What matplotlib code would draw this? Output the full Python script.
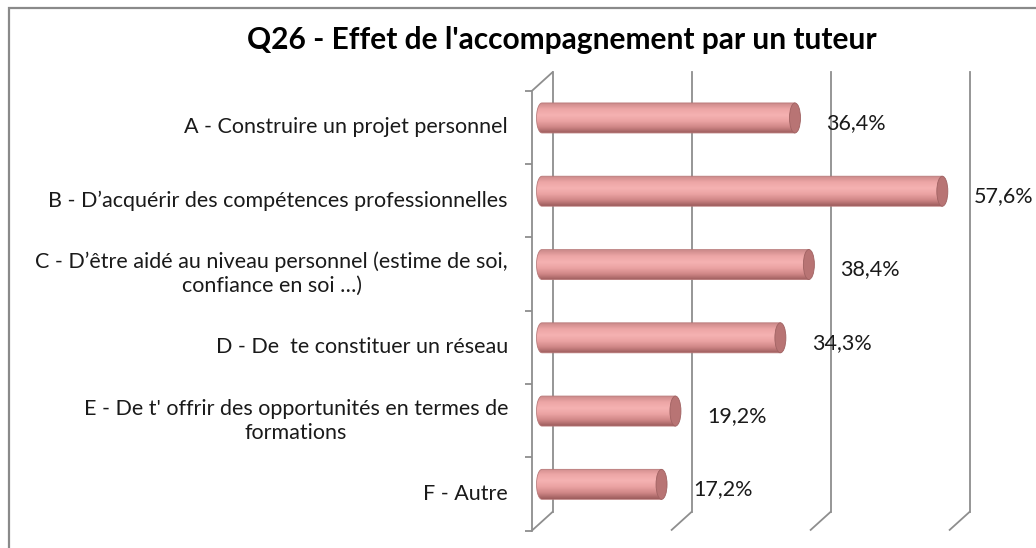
import numpy as np
import matplotlib
matplotlib.use("Agg")
import matplotlib.pyplot as plt
from matplotlib import transforms
from matplotlib.patches import PathPatch, Ellipse, Rectangle
from matplotlib.path import Path
from matplotlib.lines import Line2D
from matplotlib.colors import LinearSegmentedColormap

# ---------------- data ----------------
title = "Q26 - Effet de l'accompagnement par un tuteur"
categories = [
    "A - Construire un projet personnel",
    "B - D\u2019acqu\u00e9rir des comp\u00e9tences professionnelles",
    "C - D\u2019\u00eatre aid\u00e9 au niveau personnel (estime de soi,\nconfiance en soi \u2026)",
    "D - De  te constituer un r\u00e9seau",
    "E - De t' offrir des opportunit\u00e9s en termes de\nformations",
    "F - Autre",
]
values = [36.4, 57.6, 38.4, 34.3, 19.2, 17.2]
value_labels = ["36,4%", "57,6%", "38,4%", "34,3%", "19,2%", "17,2%"]
grid_ticks = [0, 20, 40, 60]

# ---------------- layout ----------------
W, H = 1036, 548
DPI = 100
plt.rcParams["font.family"] = ["Lato", "DejaVu Sans"]
fig = plt.figure(figsize=(W / DPI, H / DPI), dpi=DPI)
fig.patch.set_facecolor("white")

px_per_pct = 6.95
x0_px, top_px, bottom_px = 542, 81.3, 521
xmax = 70
ax = fig.add_axes([x0_px / W, (H - bottom_px) / H,
                   xmax * px_per_pct / W, (bottom_px - top_px) / H])
n = len(categories)
ax.set_xlim(0, xmax)
ax.set_ylim(n - 0.5, -0.5)
ax.axis("off")

px_per_cat = (bottom_px - top_px) / n
back_off = (11, 9.5)
front_off = (-10, -9.5)
back = transforms.offset_copy(ax.transData, fig=fig, x=back_off[0], y=back_off[1], units="dots")
front = transforms.offset_copy(ax.transData, fig=fig, x=front_off[0], y=front_off[1], units="dots")

grid_color = "#8e8e8e"
grid_lw = 1.3


def seg(p, off1, off2):
    d = ax.transData.transform(p)
    line = Line2D([d[0] + off1[0], d[0] + off2[0]], [d[1] + off1[1], d[1] + off2[1]],
                  transform=transforms.IdentityTransform(), color=grid_color,
                  lw=grid_lw, zorder=1, solid_capstyle="butt")
    fig.add_artist(line)


y_top, y_bot = -0.5, n - 0.5
# back wall gridlines + floor diagonals
for g in grid_ticks:
    ax.plot([g, g], [y_top, y_bot], transform=back, color=grid_color, lw=grid_lw,
            clip_on=False, zorder=1)
    seg((g, y_bot), back_off, front_off)
# left wall: front axis line, top diagonal, ticks
ax.plot([0, 0], [y_top, y_bot], transform=front, color=grid_color, lw=grid_lw,
        clip_on=False, zorder=1)
seg((0, y_top), back_off, front_off)
for b in np.arange(-0.5, n, 1.0):
    seg((0, b), front_off, (front_off[0] - 7, front_off[1]))

# ---------------- cylinders ----------------
cmap = LinearSegmentedColormap.from_list(
    "cyl", ["#cc8a8a", "#eda6a6", "#f5b2b2", "#eba3a3", "#d08787", "#9c5c5c"])
grad = np.linspace(0, 1, 128)[:, None]
rx = 5.5 / px_per_pct
hh = 15.0 / px_per_cat
for i, v in enumerate(values):
    t = np.linspace(3 * np.pi / 2, np.pi / 2, 40)
    arc = np.column_stack([rx * np.cos(t), i + hh * np.sin(t)])
    verts = np.vstack([[v, i - hh], arc, [v, i + hh], [v, i - hh]])
    codes = [Path.MOVETO] + [Path.LINETO] * (len(verts) - 2) + [Path.CLOSEPOLY]
    body = PathPatch(Path(verts, codes), facecolor="none", edgecolor="#b87878",
                     lw=0.6, zorder=3, clip_on=False)
    ax.add_patch(body)
    im = ax.imshow(grad, cmap=cmap, extent=[-rx, v, i + hh, i - hh], origin="upper",
                   aspect="auto", interpolation="bilinear", zorder=2)
    im.set_clip_box(fig.bbox)
    im.set_clip_path(body)
    cap = Ellipse((v, i), 2 * rx, 2 * hh, facecolor="#b87474", edgecolor="#a06262",
                  lw=0.6, zorder=4, clip_on=False)
    ax.add_patch(cap)
ax.set_xlim(0, xmax)
ax.set_ylim(n - 0.5, -0.5)

# ---------------- labels ----------------
val_tr = transforms.offset_copy(ax.transData, fig=fig, x=rx * px_per_pct + 26, y=-5, units="dots")
for i, (v, lab) in enumerate(zip(values, value_labels)):
    ax.text(v, i, lab, transform=val_tr, ha="left", va="center", fontsize=15.5,
            color="#1a1a1a", zorder=5)

cat_tr = transforms.offset_copy(ax.transData, fig=fig, x=-34, y=-9.5, units="dots")
for i, c in enumerate(categories):
    ax.text(0, i, c, transform=cat_tr, ha="right", va="center", multialignment="center",
            fontsize=15.5, color="#1a1a1a", linespacing=1.25)

fig.text(562 / W, 1 - 40 / H, title, ha="center", va="center", fontsize=21.5,
         fontweight="bold", color="#000000")

# chart border (top-left corner visible, rest outside the crop)
fig.add_artist(Rectangle((9 / W, -0.1), 1.2, 1.1 - 8 / H, transform=fig.transFigure,
                         facecolor="none", edgecolor="#8a8a8a", lw=1.6, zorder=0))

fig.savefig("out.png", dpi=DPI, facecolor="white")
